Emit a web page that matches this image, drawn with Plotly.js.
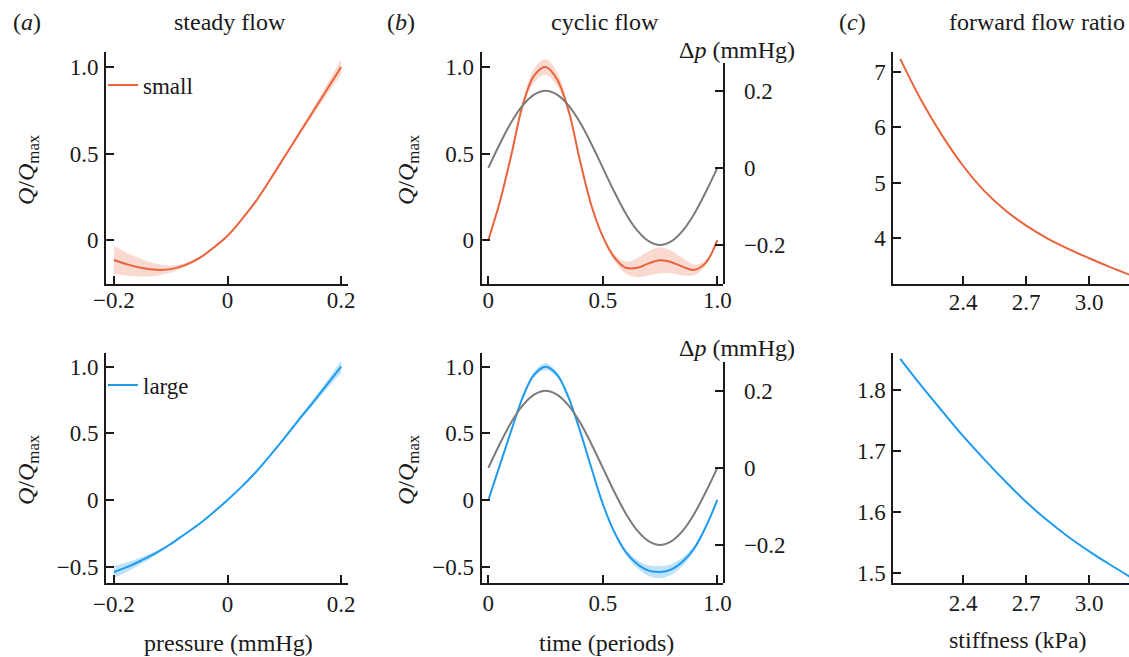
<!DOCTYPE html>
<html><head><meta charset="utf-8">
<script src="https://cdn.plot.ly/plotly-3.0.1.min.js"></script>
<style>html,body{margin:0;padding:0;overflow:hidden;background:#fff;width:1129px;height:657px}#chart{width:1240px;height:657px}</style>
</head><body><div id="chart"></div>
<script>
// ---- data ----
const pressure = [-0.2,-0.175,-0.15,-0.125,-0.1,-0.075,-0.05,-0.025,0,0.025,0.05,0.075,0.1,0.125,0.15,0.175,0.2];
const smallSteady = [-0.115,-0.142,-0.162,-0.172,-0.168,-0.145,-0.105,-0.045,0.025,0.12,0.225,0.35,0.48,0.61,0.74,0.87,1.0];
const smallSteadyErr = [0.08,0.065,0.05,0.035,0.02,0.012,0.008,0.005,0.005,0.005,0.006,0.008,0.01,0.015,0.02,0.03,0.045];
const largeSteady = [-0.54,-0.5,-0.45,-0.395,-0.33,-0.255,-0.18,-0.093,0,0.1,0.21,0.335,0.465,0.6,0.73,0.865,1.0];
const largeSteadyErr = [0.045,0.035,0.025,0.015,0.01,0.006,0.004,0.003,0.003,0.003,0.004,0.006,0.01,0.015,0.02,0.03,0.045];

const time = [0,0.05,0.1,0.15,0.2,0.25,0.3,0.35,0.4,0.45,0.5,0.55,0.6,0.65,0.7,0.75,0.8,0.85,0.9,0.95,1.0];
const smallCyclic = [0,0.22,0.49,0.78,0.95,1.0,0.93,0.75,0.46,0.2,0.02,-0.1,-0.16,-0.16,-0.135,-0.117,-0.128,-0.155,-0.172,-0.13,0];
const smallCyclicErr = [0,0.005,0.01,0.02,0.04,0.045,0.04,0.02,0.01,0.008,0.01,0.02,0.035,0.055,0.07,0.075,0.065,0.05,0.03,0.015,0];
const largeCyclic = [0,0.26,0.52,0.77,0.94,1.0,0.94,0.77,0.52,0.24,-0.03,-0.24,-0.39,-0.48,-0.53,-0.54,-0.52,-0.46,-0.36,-0.2,0];
const largeCyclicErr = [0,0.005,0.008,0.012,0.02,0.025,0.02,0.012,0.008,0.006,0.008,0.012,0.02,0.03,0.04,0.045,0.04,0.03,0.02,0.01,0];
const drivePressure = [0,0.062,0.118,0.162,0.19,0.2,0.19,0.162,0.118,0.062,0,-0.062,-0.118,-0.162,-0.19,-0.2,-0.19,-0.162,-0.118,-0.062,0];

const stiffness = [2.1,2.2,2.3,2.4,2.5,2.6,2.7,2.8,2.9,3.0,3.1,3.2];
const smallRatio = [7.24,6.49,5.85,5.30,4.85,4.50,4.22,3.99,3.80,3.63,3.47,3.32];
const largeRatio = [1.851,1.807,1.765,1.724,1.686,1.650,1.616,1.586,1.559,1.535,1.513,1.492];

// tick labels
const pressureTicks = [-0.2,0,0.2], pressureTickText = ['\u22120.2','0','0.2'];
const timeTicks = [0,0.5,1.0], timeTickText = ['0','0.5','1.0'];
const qTopTicks = [0,0.5,1.0], qTopTickText = ['0','0.5','1.0'];
const qBotTicks = [-0.5,0,0.5,1.0], qBotTickText = ['\u22120.5','0','0.5','1.0'];
const dpTicks = [-0.2,0,0.2], dpTickText = ['\u22120.2','0','0.2'];
const stiffTicks = [2.4,2.7,3.0,3.3], stiffTickText = ['2.4','2.7','3.0','3.3'];
const ratioSmallTicks = [4,5,6,7], ratioSmallTickText = ['4','5','6','7'];
const ratioLargeTicks = [1.5,1.6,1.7,1.8], ratioLargeTickText = ['1.5','1.6','1.7','1.8'];

// ---- styling ----
const W = 1240, H = 657;
const fx = p => p / W, fy = p => 1 - p / H;
const FONT = 'Liberation Serif';
const INK = '#1a1a1a';
const ORANGE = '#E9643D', ORANGE_BAND = 'rgba(238,120,85,0.28)';
const BLUE = '#1E9BEF', BLUE_BAND = 'rgba(40,160,240,0.30)';
const GRAY = '#7b7b7b';

function bandTraces(x, y, err, xa, ya, color) {
  const up = y.map((v, i) => v + err[i]);
  const lo = y.map((v, i) => v - err[i]);
  const base = {x: x, xaxis: xa, yaxis: ya, mode: 'lines', showlegend: false, hoverinfo: 'skip',
    line: {width: 0, shape: 'spline', color: 'rgba(0,0,0,0)'}};
  return [Object.assign({}, base, {y: up}), Object.assign({}, base, {y: lo, fill: 'tonexty', fillcolor: color})];
}
function lineTrace(x, y, xa, ya, color, name, legend) {
  const t = {x: x, y: y, xaxis: xa, yaxis: ya, mode: 'lines', name: name || '',
    line: {color: color, width: 2, shape: 'spline'}, showlegend: !!legend, hoverinfo: 'skip'};
  if (legend) t.legend = legend;
  return t;
}

const data = [].concat(
  bandTraces(pressure, smallSteady, smallSteadyErr, 'x', 'y', ORANGE_BAND),
  [lineTrace(pressure, smallSteady, 'x', 'y', ORANGE, 'small', 'legend')],
  bandTraces(time, smallCyclic, smallCyclicErr, 'x2', 'y2', ORANGE_BAND),
  [lineTrace(time, smallCyclic, 'x2', 'y2', ORANGE)],
  [lineTrace(time, drivePressure, 'x7', 'y7', GRAY)],
  [lineTrace(stiffness, smallRatio, 'x3', 'y3', ORANGE)],
  bandTraces(pressure, largeSteady, largeSteadyErr, 'x4', 'y4', BLUE_BAND),
  [lineTrace(pressure, largeSteady, 'x4', 'y4', BLUE, 'large', 'legend2')],
  bandTraces(time, largeCyclic, largeCyclicErr, 'x5', 'y5', BLUE_BAND),
  [lineTrace(time, largeCyclic, 'x5', 'y5', BLUE)],
  [lineTrace(time, drivePressure, 'x8', 'y8', GRAY)],
  [lineTrace(stiffness, largeRatio, 'x6', 'y6', BLUE)]
);

function common() {
  return {ticks: 'inside', ticklen: 8, tickwidth: 2, tickcolor: INK, showline: true, linewidth: 2,
    linecolor: INK, showgrid: false, zeroline: false, fixedrange: true,
    tickfont: {family: FONT, size: 23, color: INK}};
}
function xax(p0, p1, range, tv, tt, anchor, standoff) {
  return Object.assign(common(), {domain: [fx(p0), fx(p1)], range: range, anchor: anchor,
    tickmode: 'array', tickvals: tv, ticktext: tt, ticklabelstandoff: standoff});
}
function yax(top, bottom, range, tv, tt, anchor, side, standoff) {
  return Object.assign(common(), {domain: [fy(bottom), fy(top)], range: range, anchor: anchor, side: side || 'left',
    tickmode: 'array', tickvals: tv, ticktext: tt, ticklabelstandoff: standoff});
}

const A = [106, 348], B = [481.7, 723.3], C = [893.3, 1143];
const TOP = [52, 284], BOT = [352.7, 583.3];
const xrA = [-0.214, 0.212], xrB = [-0.029, 1.026], xrC = [2.067, 3.256];

const layout = {
  width: W, height: H, margin: {l: 0, r: 0, t: 0, b: 0},
  paper_bgcolor: '#fff', plot_bgcolor: 'rgba(0,0,0,0)',
  font: {family: FONT, color: INK, size: 23},
  showlegend: true,
  xaxis: xax(A[0], A[1], xrA, pressureTicks, pressureTickText, 'y', -6),
  yaxis: yax(TOP[0], TOP[1], [-0.254, 1.087], qTopTicks, qTopTickText, 'x', 'left', 1),
  xaxis2: xax(B[0], B[1], xrB, timeTicks, timeTickText, 'y2', -6),
  yaxis2: yax(TOP[0], TOP[1], [-0.254, 1.087], qTopTicks, qTopTickText, 'x2', 'left', 1),
  xaxis3: xax(C[0], C[1], xrC, stiffTicks, stiffTickText, 'y3', -4),
  yaxis3: yax(TOP[0], TOP[1], [3.164, 7.364], ratioSmallTicks, ratioSmallTickText, 'x3', 'left', 1),
  xaxis4: xax(A[0], A[1], xrA, pressureTicks, pressureTickText, 'y4', -1),
  yaxis4: yax(BOT[0], BOT[1], [-0.625, 1.105], qBotTicks, qBotTickText, 'x4', 'left', 1),
  xaxis5: xax(B[0], B[1], xrB, timeTicks, timeTickText, 'y5', -2),
  yaxis5: yax(BOT[0], BOT[1], [-0.625, 1.105], qBotTicks, qBotTickText, 'x5', 'left', 1),
  xaxis6: xax(C[0], C[1], xrC, stiffTicks, stiffTickText, 'y6', -2),
  yaxis6: yax(BOT[0], BOT[1], [1.4826, 1.861], ratioLargeTicks, ratioLargeTickText, 'x6', 'left', 1),
  xaxis7: Object.assign(xax(B[0], B[1], xrB, timeTicks, timeTickText, 'y7', 0), {visible: false}),
  yaxis7: yax(63.3, TOP[1], [-0.301, 0.271], dpTicks, dpTickText, 'x7', 'right', 14),
  xaxis8: Object.assign(xax(B[0], B[1], xrB, timeTicks, timeTickText, 'y8', 0), {visible: false}),
  yaxis8: yax(361.7, BOT[1], [-0.299, 0.275], dpTicks, dpTickText, 'x8', 'right', 14),
  legend: {x: fx(103), y: fy(85), xanchor: 'left', yanchor: 'middle', bgcolor: 'rgba(0,0,0,0)',
    borderwidth: 0, font: {family: FONT, size: 23, color: INK}},
  legend2: {x: fx(103), y: fy(385), xanchor: 'left', yanchor: 'middle', bgcolor: 'rgba(0,0,0,0)',
    borderwidth: 0, font: {family: FONT, size: 23, color: INK}},
  annotations: []
};

function note(text, px, py, opts) {
  return Object.assign({text: text, x: fx(px), y: fy(py), xref: 'paper', yref: 'paper', showarrow: false,
    xanchor: 'center', yanchor: 'middle', font: {family: FONT, size: 24, color: INK}}, opts || {});
}
const qLabel = '<i>Q</i>/<i>Q</i><sub>max</sub>';
layout.annotations.push(
  note('(<i>a</i>)', 27, 22), note('(<i>b</i>)', 401, 22), note('(<i>c</i>)', 852, 22),
  note('steady flow', 230, 22), note('cyclic flow', 605, 22), note('forward flow ratio', 1037, 22),
  note(qLabel, 28, 170, {textangle: -90}), note(qLabel, 28, 470, {textangle: -90}),
  note(qLabel, 408, 170, {textangle: -90}), note(qLabel, 408, 470, {textangle: -90}),
  note('\u0394<i>p</i> (mmHg)', 737, 50), note('\u0394<i>p</i> (mmHg)', 737, 348),
  note('pressure (mmHg)', 228, 643), note('time (periods)', 606, 643), note('stiffness (kPa)', 1018, 640)
);

Plotly.newPlot('chart', data, layout, {displayModeBar: false, staticPlot: true});
</script></body></html>
